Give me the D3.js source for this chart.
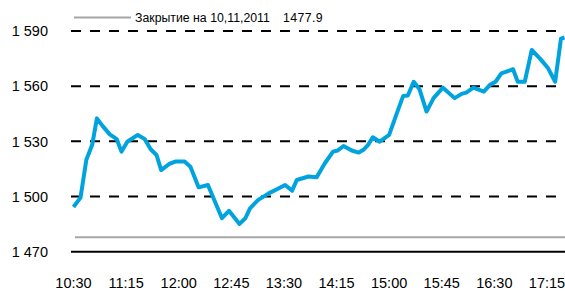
<!DOCTYPE html>
<html>
<head>
<meta charset="utf-8">
<script src="https://cdn.jsdelivr.net/npm/d3@7"></script>
<style>
  body { margin: 0; background: #fff; }
  text { font-family: "Liberation Sans", Arial, sans-serif; }
</style>
</head>
<body>
<svg id="chart" width="565" height="291"></svg>
<script>
// intraday index values
const times = ["10:30","10:36","10:41","10:46","10:50","10:55","11:01","11:07","11:11","11:16",
  "11:25","11:31","11:36","11:41","11:45","11:52","11:57","12:05","12:10","12:17",
  "12:25","12:37","12:43","12:52","12:57","13:01","13:08","13:17","13:24","13:31",
  "13:37","13:41","13:51","13:58","14:05","14:12","14:16","14:21","14:28","14:34",
  "14:38","14:42","14:46","14:52","15:00","15:06","15:12","15:16","15:21","15:26",
  "15:32","15:38","15:46","15:56","16:02","16:06","16:12","16:21","16:26","16:31",
  "16:36","16:46","16:50","16:56","17:02","17:10","17:16","17:22","17:27","17:30"];
const values = [1494.3,1499.4,1520,1528.1,1542.5,1538.3,1533.8,1531.2,1524.4,1529.8,
  1533.5,1531.2,1525.7,1522.6,1514.4,1517.7,1519,1519,1516.2,1505,
  1506.3,1488.2,1492.2,1485.1,1488.2,1493.6,1498.2,1501.7,1504,1506.3,
  1503.2,1509,1510.9,1510.5,1518.1,1524.4,1525,1527.5,1525,1523.9,
  1525.4,1528.1,1532.2,1529.8,1533.5,1544.3,1554.7,1554.9,1562.4,1558.3,
  1546.2,1553.5,1559.2,1553.5,1555.8,1556.5,1559.2,1557,1560.6,1562.4,
  1567,1569.2,1562.4,1562.4,1579.7,1574.3,1569.7,1562.4,1585.9,1586.5];
const xTicks = ["10:30","11:15","12:00","12:45","13:30","14:15","15:00","15:45","16:30","17:15"];
const yTicks = [1470, 1500, 1530, 1560, 1590];
const closeValue = 1477.9;
const closeLabel = "Закрытие на 10,11,2011";

const parse = d3.timeParse("%H:%M");
const data = times.map((t, i) => ({ t: parse(t), v: values[i] }));

const svg = d3.select("#chart");
const x = d3.scaleTime().domain([parse("10:30"), parse("17:30")]).range([73.5, 564.5]);
const y = d3.scaleLinear().domain([1470, 1590]).range([251.7, 31]);

// grid
svg.append("g").selectAll("line").data(yTicks.filter(d => d !== 1470))
  .join("line")
  .attr("x1", 71).attr("x2", 565)
  .attr("y1", d => y(d)).attr("y2", d => y(d))
  .attr("stroke", "#000").attr("stroke-width", 2)
  .attr("stroke-dasharray", "10 9");

svg.append("line")
  .attr("x1", 71).attr("x2", 565)
  .attr("y1", y(1470)).attr("y2", y(1470))
  .attr("stroke", "#000").attr("stroke-width", 2);

// close level
svg.append("line")
  .attr("x1", 75).attr("x2", 565)
  .attr("y1", y(closeValue)).attr("y2", y(closeValue))
  .attr("stroke", "#a6a6a6").attr("stroke-width", 2);

// y labels
svg.append("g").selectAll("text").data(yTicks)
  .join("text")
  .attr("x", 48).attr("y", d => y(d)).attr("dy", "0.36em")
  .attr("text-anchor", "end").attr("font-size", 14.5).attr("fill", "#000")
  .text(d => d3.format(",")(d).replace(",", " "));

// x labels
svg.append("g").selectAll("text").data(xTicks)
  .join("text")
  .attr("x", d => x(parse(d))).attr("y", 288)
  .attr("text-anchor", "middle").attr("font-size", 14.5).attr("fill", "#000")
  .text(d => d);

// series
const line = d3.line().x(d => x(d.t)).y(d => y(d.v));
svg.append("path").datum(data)
  .attr("d", line)
  .attr("fill", "none")
  .attr("stroke", "#00a3de").attr("stroke-width", 4)
  .attr("stroke-linejoin", "round");

// legend
const lg = svg.append("g");
lg.append("line").attr("x1", 74).attr("x2", 131).attr("y1", 17.5).attr("y2", 17.5)
  .attr("stroke", "#a6a6a6").attr("stroke-width", 2);
lg.append("text").attr("x", 135).attr("y", 22).attr("font-size", 12.3).attr("fill", "#000")
  .text(closeLabel);
lg.append("text").attr("x", 283).attr("y", 22).attr("font-size", 12.3).attr("fill", "#000")
  .attr("letter-spacing", 0.4)
  .text(closeValue);
</script>
</body>
</html>
